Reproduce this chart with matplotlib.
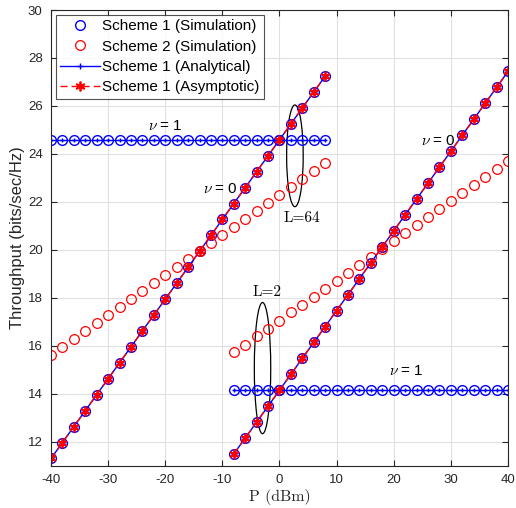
import matplotlib
matplotlib.use("Agg")
import matplotlib.pyplot as plt
from matplotlib.patches import Ellipse

plt.rcParams['font.family'] = ['Liberation Sans', 'DejaVu Sans']
plt.rcParams['mathtext.fontset'] = 'cm'
plt.rcParams['axes.unicode_minus'] = False

# ---- data ----
p_L64 = [-40, -38, -36, -34, -32, -30, -28, -26, -24, -22, -20, -18, -16,
         -14, -12, -10, -8, -6, -4, -2, 0, 2, 4, 6, 8]
s1_nu0_L64 = [11.30, 11.96, 12.63, 13.29, 13.96, 14.62, 15.29, 15.95, 16.62,
              17.28, 17.94, 18.61, 19.27, 19.94, 20.60, 21.27, 21.93, 22.59,
              23.26, 23.92, 24.59, 25.25, 25.92, 26.58, 27.24]
s1_nu1_L64 = [24.59] * 25
s2_L64 = [15.62, 15.95, 16.29, 16.62, 16.95, 17.29, 17.62, 17.95, 18.28,
          18.62, 18.95, 19.28, 19.62, 19.95, 20.28, 20.62, 20.95, 21.28,
          21.61, 21.95, 22.28, 22.61, 22.95, 23.28, 23.61]

p_L2 = [-8, -6, -4, -2, 0, 2, 4, 6, 8, 10, 12, 14, 16, 18, 20, 22, 24, 26,
        28, 30, 32, 34, 36, 38, 40]
s1_nu0_L2 = [11.49, 12.15, 12.82, 13.48, 14.15, 14.81, 15.48, 16.14, 16.80,
             17.47, 18.13, 18.80, 19.46, 20.13, 20.79, 21.46, 22.12, 22.78,
             23.45, 24.11, 24.78, 25.44, 26.11, 26.77, 27.44]
s1_nu1_L2 = [14.15] * 25
s2_L2 = [15.72, 16.05, 16.39, 16.72, 17.05, 17.39, 17.72, 18.05, 18.38,
         18.72, 19.05, 19.38, 19.72, 20.05, 20.38, 20.72, 21.05, 21.38,
         21.71, 22.05, 22.38, 22.71, 23.05, 23.38, 23.71]

legend_labels = ["Scheme 1 (Simulation)", "Scheme 2 (Simulation)",
                 "Scheme 1 (Analytical)", "Scheme 1 (Asymptotic)"]
x_ticks = [-40, -30, -20, -10, 0, 10, 20, 30, 40]
y_ticks = [12, 14, 16, 18, 20, 22, 24, 26, 28, 30]

# ---- figure ----
fig = plt.figure(figsize=(5.16, 5.08), dpi=100)
ax = fig.add_axes([0.0988, 0.0833, 0.8857, 0.897])

blue = '#0000ff'
red = '#ff0000'
ms = 7
ast = (6, 2, 0)
dark = '#262626'

handles = None
for p, nu0, nu1, s2 in [(p_L64, s1_nu0_L64, s1_nu1_L64, s2_L64),
                        (p_L2, s1_nu0_L2, s1_nu1_L2, s2_L2)]:
    h1, = ax.plot(p, nu0, 'o', color=blue, mfc='none', ms=ms, mew=1.0)
    ax.plot(p, nu1, 'o', color=blue, mfc='none', ms=ms, mew=1.0)
    h2, = ax.plot(p, s2, 'o', color=red, mfc='none', ms=ms, mew=0.9)
    h3, = ax.plot(p, nu0, '-', color=blue, marker='+', ms=5, lw=1.0)
    ax.plot(p, nu1, '-', color=blue, marker='+', ms=3, lw=1.0)
    h4, = ax.plot(p, nu0, '--', color=red, marker=ast, ms=7, mew=1.3,
                  lw=1.0, dashes=(5, 3))
    if handles is None:
        handles = [h1, h2, h3, h4]

# ellipses
ax.add_patch(Ellipse((2.7, 23.92), 2.9, 4.24, fill=False, ec='black', lw=0.9))
ax.add_patch(Ellipse((-2.97, 15.07), 2.87, 5.47, fill=False, ec='black', lw=0.9))

# annotations
ax.text(-20, 25.17, r'$\nu$ = 1', ha='center', va='center', fontsize=11)
ax.text(-10.4, 22.54, r'$\nu$ = 0', ha='center', va='center', fontsize=11)
ax.text(27.8, 24.54, r'$\nu$ = 0', ha='center', va='center', fontsize=11)
ax.text(22.2, 14.93, r'$\nu$ = 1', ha='center', va='center', fontsize=11)
ax.text(3.85, 21.33, 'L=64', ha='center', va='center', fontsize=11,
        fontfamily='cmr10')
ax.text(-2.2, 18.25, 'L=2', ha='center', va='center', fontsize=11,
        fontfamily='cmr10')

ax.set_xlim(-40, 40)
ax.set_ylim(11, 30)
ax.set_xticks(x_ticks)
ax.set_yticks(y_ticks)
ax.grid(True, color='#e0e0e0', lw=0.8)
ax.set_axisbelow(True)
ax.tick_params(direction='in', top=True, right=True, length=4,
               labelsize=9.5, colors=dark, width=0.8, pad=6)
for s in ax.spines.values():
    s.set_color(dark)
    s.set_linewidth(0.8)

ax.set_xlabel('P (dBm)', fontsize=11.5, color=dark, labelpad=2,
              fontfamily='cmr10')
ax.set_ylabel('Throughput (bits/sec/Hz)', fontsize=12, color=dark, labelpad=2)

leg = ax.legend(handles, legend_labels, loc='upper left', fontsize=11,
                frameon=True, fancybox=False, edgecolor=dark,
                handlelength=2.6, handletextpad=0.15, labelspacing=0.42,
                borderpad=0.3, borderaxespad=0.3, bbox_to_anchor=(0.0, 1.0))
leg.get_frame().set_linewidth(0.8)

fig.savefig('out.png', dpi=100)
